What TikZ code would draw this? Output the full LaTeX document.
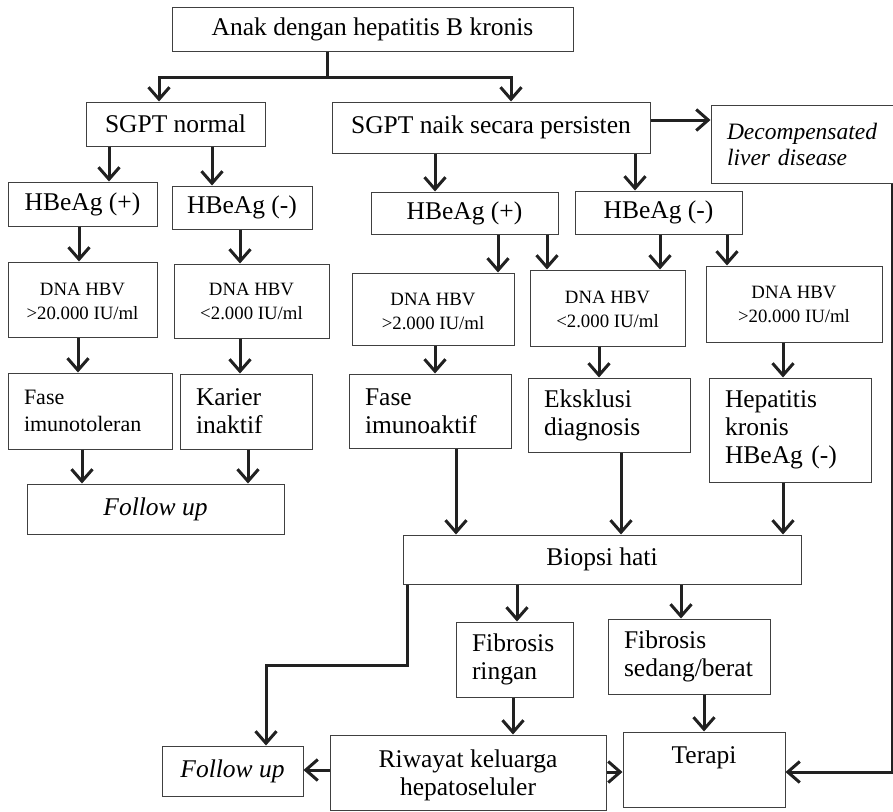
\documentclass[tikz,border=0pt]{standalone}
\usepackage{fontspec}
\setmainfont{Liberation Serif}
\usetikzlibrary{arrows.meta}
\hyphenpenalty=10000
\tikzset{
  box/.style={draw=black!75, line width=1pt, inner sep=0pt, align=center,
    font=\fontsize{25.5}{28}\selectfont},
  lbox/.style={box, align=left, inner xsep=16pt},
  dnabox/.style={box, font=\fontsize{18.8}{24}\selectfont},
  link/.style={line width=3pt, draw=black!87},
  arr/.style={link, -{Straight Barb[length=12pt,width=21pt]}},
}

\begin{document}
\begin{tikzpicture}[x=1pt, y=-1pt]
\useasboundingbox (0,0) rectangle (893,811);

% first split
\node[box, minimum width=401pt, minimum height=44pt] (anak) at (372.5,29) {Anak dengan hepatitis B kronis};
\node[box, minimum width=179pt, minimum height=44pt] (sgptn) at (175.5,124) {SGPT normal};
\node[box, minimum width=318pt, minimum height=51pt] (sgptp) at (491,127.5) {SGPT naik secara persisten};
\node[lbox, text width=152pt, minimum height=78pt, font=\fontsize{23.5}{26}\selectfont\itshape] (dld) at (803,144) {Decompensated\\liver disease};

% HBeAg
\node[box, minimum width=149pt, minimum height=44pt] (hbp1) at (82.5,204) {HBeAg (+)};
\node[box, minimum width=140pt, minimum height=43pt] (hbn1) at (242,207.5) {HBeAg (-)};
\node[box, minimum width=187pt, minimum height=42pt] (hbp2) at (464.5,213) {HBeAg (+)};
\node[box, minimum width=167pt, minimum height=43pt] (hbn2) at (658.5,212.5) {HBeAg (-)};

% DNA HBV (text placed by text height/depth)
\node[dnabox, minimum width=149pt, text height=57pt, text depth=18pt] (dna1) at (82.5,299.5) {DNA HBV\\>20.000 IU/ml};
\node[dnabox, minimum width=155pt, text height=55pt, text depth=19pt] (dna2) at (251.5,301) {DNA HBV\\<2.000 IU/ml};
\node[dnabox, minimum width=162pt, text height=56pt, text depth=16pt] (dna3) at (433,309) {DNA HBV\\>2.000 IU/ml};
\node[dnabox, minimum width=155pt, text height=57pt, text depth=19pt] (dna4) at (607.5,308) {DNA HBV\\<2.000 IU/ml};
\node[dnabox, minimum width=176pt, text height=56pt, text depth=20pt] (dna5) at (794,304) {DNA HBV\\>20.000 IU/ml};

% phases
\node[lbox, text width=132pt, minimum height=76pt, font=\fontsize{22}{27}\selectfont] (fase1) at (90,411) {Fase\\imunotoleran};
\node[lbox, text width=100pt, minimum height=75pt] (karier) at (246,411.5) {Karier\\inaktif};
\node[lbox, text width=130pt, minimum height=74pt] (fase2) at (430,411) {Fase\\imunoaktif};
\node[lbox, text width=130pt, minimum height=74pt] (eks) at (609,415) {Eksklusi\\diagnosis};
\node[lbox, text width=130pt, minimum height=104pt] (hep) at (790,430) {Hepatitis\\kronis\\HBeAg (-)};
\node[box, minimum width=257pt, minimum height=50pt, font=\fontsize{25.5}{28}\selectfont\itshape] (fu1) at (155.5,509) {Follow up};

% biopsy and after
\node[box, minimum width=398pt, minimum height=49pt] (biopsi) at (602,559.5) {Biopsi hati};
\node[lbox, text width=85pt, minimum height=75pt] (fib1) at (514.5,659.5) {Fibrosis\\ringan};
\node[lbox, text width=130pt, minimum height=75pt] (fib2) at (689,656.5) {Fibrosis\\sedang/berat};
\node[box, minimum width=276pt, text height=60pt, text depth=15pt] (riwayat) at (468,772.5) {Riwayat keluarga\\hepatoseluler};
\node[box, minimum width=162pt, text height=31.5pt, text depth=43.5pt] (terapi) at (704,769.5) {Terapi};
\node[box, minimum width=141pt, minimum height=50pt, font=\fontsize{25.5}{28}\selectfont\itshape] (fu2) at (232.5,771) {Follow up};

% connectors
\coordinate (split) at (327,77);
\draw[link] (anak.south -| split) -- (split);
\draw[arr] (split) -| (159,0 |- sgptn.north);
\draw[arr] (split) -| (511,0 |- sgptp.north);
\draw[arr] (0,120 -| sgptp.east) -- (0,120 -| dld.west);
\draw[arr] (892,0 |- dld.south) |- (0,772 -| terapi.east);

\draw[arr] (109,0 |- sgptn.south) -- (109,0 |- hbp1.north);
\draw[arr] (212,0 |- sgptn.south) -- (212,0 |- hbn1.north);
\draw[arr] (435,0 |- sgptp.south) -- (435,0 |- hbp2.north);
\draw[arr] (635,0 |- sgptp.south) -- (635,0 |- hbn2.north);

\draw[arr] (79,0 |- hbp1.south) -- (79,0 |- dna1.north);
\draw[arr] (240,0 |- hbn1.south) -- (240,0 |- dna2.north);
\draw[arr] (498,0 |- hbp2.south) -- (498,0 |- dna3.north);
\draw[arr] (547,0 |- hbp2.south) -- (547,0 |- dna4.north);
\draw[arr] (660,0 |- hbn2.south) -- (660,0 |- dna4.north);
\draw[arr] (727,0 |- hbn2.south) -- (727,0 |- dna5.north);

\draw[arr] (78,0 |- dna1.south) -- (78,0 |- fase1.north);
\draw[arr] (240,0 |- dna2.south) -- (240,0 |- karier.north);
\draw[arr] (435,0 |- dna3.south) -- (435,0 |- fase2.north);
\draw[arr] (599,0 |- dna4.south) -- (599,0 |- eks.north);
\draw[arr] (783,0 |- dna5.south) -- (783,0 |- hep.north);

\draw[arr] (82,0 |- fase1.south) -- (82,0 |- fu1.north);
\draw[arr] (248,0 |- karier.south) -- (248,0 |- fu1.north);
\draw[arr] (456,0 |- fase2.south) -- (456,0 |- biopsi.north);
\draw[arr] (621,0 |- eks.south) -- (621,0 |- biopsi.north);
\draw[arr] (783,0 |- hep.south) -- (783,0 |- biopsi.north);

\draw[arr] (517,0 |- biopsi.south) -- (517,0 |- fib1.north);
\draw[arr] (681,0 |- biopsi.south) -- (681,0 |- fib2.north);
\coordinate (bend) at (266,665);
\draw[arr] (407,0 |- biopsi.south) |- (bend) -- (bend |- fu2.north);
\draw[arr] (513,0 |- fib1.south) -- (513,0 |- riwayat.north);
\draw[arr] (704,0 |- fib2.south) -- (704,0 |- terapi.north);
\draw[arr] (0,770 -| riwayat.west) -- (0,770 -| fu2.east);
\draw[arr] (0,772 -| riwayat.east) -- (0,772 -| terapi.west);

\end{tikzpicture}
\end{document}
